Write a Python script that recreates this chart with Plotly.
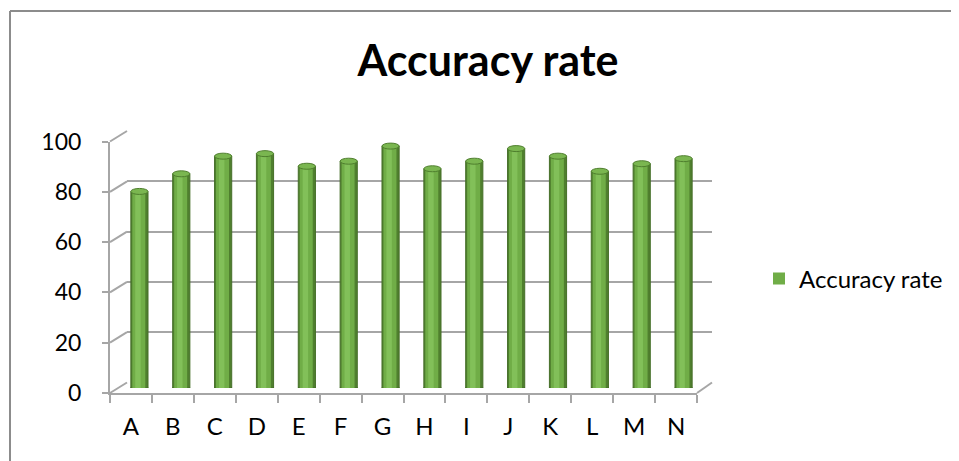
import plotly.graph_objects as go

categories = ["A", "B", "C", "D", "E", "F", "G", "H", "I", "J", "K", "L", "M", "N"]
accuracy = [78, 85, 92, 93, 88, 90, 96, 87, 90, 95, 92, 86, 89, 91]
series_name = "Accuracy rate"
title_text = "Accuracy rate"
y_ticks = [0, 20, 40, 60, 80, 100]

W, H = 959, 461
OFF = 8  # page body margin shift
def fx(px):
    return (px - OFF) / W
def fy(py):
    return 1 - (py - OFF) / H

# geometry (screen pixels) of the pseudo-3D box
FRONT_X = (110, 697); FRONT_Y = (393, 141.5)
BACK_X = (127, 712); BACK_Y = (382.5, 131)
MID_X = (118.5, 704.5); MID_Y = (388, 136)

GRID = "#a6a6a6"
FONT = "Lato, 'Open Sans', sans-serif"

fig = go.Figure()

fig.add_trace(go.Scatter(x=categories, y=[None] * len(categories), mode="markers",
                         showlegend=False, hoverinfo="skip", xaxis="x", yaxis="y"))
fig.add_trace(go.Scatter(x=categories, y=[None] * len(categories), mode="markers",
                         showlegend=False, hoverinfo="skip", xaxis="x2", yaxis="y2"))

fig.add_trace(go.Bar(x=categories, y=accuracy, width=0.41,
                     marker=dict(color="#4f7f2e", line=dict(color="#466f29", width=1)),
                     showlegend=False, hoverinfo="skip", xaxis="x3", yaxis="y3"))
fig.add_trace(go.Bar(x=categories, y=accuracy, width=0.31, offset=-0.17, name=series_name,
                     marker=dict(color="#70AD47", line=dict(width=0)),
                     showlegend=True, xaxis="x3", yaxis="y3"))
fig.add_trace(go.Bar(x=categories, y=accuracy, width=0.13, offset=-0.1,
                     marker=dict(color="#82c059", line=dict(width=0)),
                     showlegend=False, hoverinfo="skip", xaxis="x3", yaxis="y3"))

shapes = []
unit_px = (MID_Y[0] - MID_Y[1]) / 100.0
eh = 6.0 / unit_px / 2
for i, v in enumerate(accuracy):
    shapes.append(dict(type="circle", xref="x3", yref="y3", x0=i - 0.205, x1=i + 0.205,
                       y0=v - eh, y1=v + eh, fillcolor="#7ab650",
                       line=dict(color="#4f7f2e", width=1), layer="above"))
    shapes.append(dict(type="circle", xref="x3", yref="y3", x0=i - 0.205, x1=i + 0.205,
                       y0=-eh, y1=eh, fillcolor="#5a9036",
                       line=dict(color="#4f7f2e", width=1), layer="below"))

front_unit = (FRONT_Y[0] - FRONT_Y[1]) / 100.0
back_unit = (BACK_Y[0] - BACK_Y[1]) / 100.0
for t in y_ticks:
    shapes.append(dict(type="line", xref="paper", yref="paper",
                       x0=fx(FRONT_X[0]), y0=fy(FRONT_Y[0] - t * front_unit),
                       x1=fx(BACK_X[0]), y1=fy(BACK_Y[0] - t * back_unit),
                       line=dict(color=GRID, width=2)))
shapes.append(dict(type="line", xref="paper", yref="paper",
                   x0=fx(FRONT_X[1]), y0=fy(FRONT_Y[0]), x1=fx(BACK_X[1]), y1=fy(BACK_Y[0]),
                   line=dict(color=GRID, width=2)))
# outer border (top and left visible)
shapes.append(dict(type="line", xref="paper", yref="paper", x0=fx(10), y0=fy(11), x1=1, y1=fy(11),
                   line=dict(color="#8c8c8c", width=2)))
shapes.append(dict(type="line", xref="paper", yref="paper", x0=fx(10), y0=fy(11), x1=fx(10), y1=0,
                   line=dict(color="#8c8c8c", width=2)))

fig.update_layout(
    width=W, height=H,
    margin=dict(l=0, r=0, t=0, b=0, autoexpand=False),
    paper_bgcolor="white", plot_bgcolor="rgba(0,0,0,0)",
    barmode="overlay",
    font=dict(family=FONT, color="#000000"),
    title=dict(text="<b>" + title_text + "</b>", x=fx(488), xanchor="center",
               y=fy(61), yanchor="middle", yref="container",
               font=dict(family=FONT, size=43, color="#000000")),
    showlegend=True,
    legend=dict(x=fx(759), y=fy(279), xanchor="left", yanchor="middle",
                font=dict(family=FONT, size=24, color="#000000"), bgcolor="rgba(0,0,0,0)"),
    xaxis=dict(domain=[fx(FRONT_X[0]), fx(FRONT_X[1])], type="category", categoryorder="array",
               categoryarray=categories, range=[-0.5, len(categories) - 0.5],
               showline=True, linecolor=GRID, linewidth=2, ticks="outside", tickson="boundaries",
               ticklen=8, tickcolor=GRID, tickwidth=2, showgrid=False, zeroline=False,
               tickfont=dict(family=FONT, size=24, color="#000000"), ticklabelstandoff=11,
               anchor="y", fixedrange=True, automargin=False),
    yaxis=dict(domain=[fy(FRONT_Y[0]), fy(FRONT_Y[1])], range=[0, 100], tickvals=y_ticks,
               showline=True, linecolor=GRID, linewidth=2, ticks="outside", ticklen=6,
               tickcolor=GRID, tickwidth=2, showgrid=False, zeroline=False,
               tickfont=dict(family=FONT, size=23, color="#000000"), ticklabelstandoff=16,
               anchor="x", fixedrange=True, automargin=False),
    xaxis2=dict(domain=[fx(BACK_X[0]), fx(BACK_X[1])], type="category", categoryorder="array",
                categoryarray=categories, range=[-0.5, len(categories) - 0.5],
                showline=False, showticklabels=False, ticks="", showgrid=False, zeroline=False,
                anchor="y2", fixedrange=True, automargin=False),
    yaxis2=dict(domain=[fy(BACK_Y[0]), fy(BACK_Y[1])], range=[0, 100], tickvals=y_ticks,
                showline=False, showticklabels=False, ticks="", showgrid=True, gridcolor=GRID,
                gridwidth=2, zeroline=False, anchor="x2", fixedrange=True, automargin=False),
    xaxis3=dict(domain=[fx(MID_X[0]), fx(MID_X[1])], type="category", categoryorder="array",
                categoryarray=categories, range=[-0.5, len(categories) - 0.5],
                visible=False, anchor="y3", fixedrange=True, automargin=False),
    yaxis3=dict(domain=[fy(MID_Y[0]), fy(MID_Y[1])], range=[0, 100],
                visible=False, anchor="x3", fixedrange=True, automargin=False),
    shapes=shapes,
)

fig.write_html("out.html")
